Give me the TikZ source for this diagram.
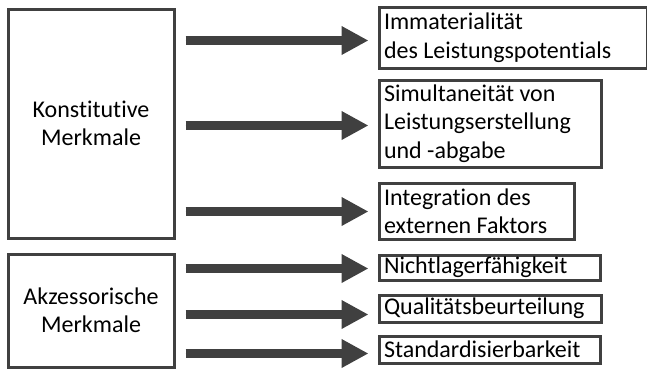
\documentclass[tikz,border=0pt]{standalone}
\usepackage{fontspec}
\setmainfont{Carlito}[Ligatures={NoCommon}]
\usetikzlibrary{arrows.meta}
\definecolor{dg}{HTML}{404040}
\begin{document}
\begin{tikzpicture}[x=1pt,y=-1pt,
  box/.style={draw=dg,line width=3pt,inner sep=0pt,anchor=north west,fill=white},
  lbox/.style={box,align=center,font=\fontsize{24}{28}\selectfont},
  rbox/.style={box,align=flush left,inner xsep=5pt,font=\fontsize{24}{28.5}\selectfont},
  arr/.style={draw=dg,line width=9pt,-{Triangle[width=27pt,length=27pt]},fill=dg}]
\useasboundingbox (0,0) rectangle (647,368);
\node[lbox,minimum width=166pt,minimum height=229pt] (K) at (6.5,7.5) {Konstitutive\\Merkmale};
\node[lbox,minimum width=166pt,minimum height=113pt] (A) at (6.5,252.5) {Akzessorische\\Merkmale};
\node[rbox,minimum width=268pt,minimum height=61pt,text width=258pt] (R1) at (377.5,5.5) {Immaterialität\\des Leistungspotentials};
\node[rbox,minimum width=222pt,minimum height=87pt,text width=212pt] (R2) at (377.5,78.5) {Simultaneität von\\Leistungserstellung\\und -abgabe};
\node[rbox,minimum width=195pt,minimum height=56pt,text width=185pt] (R3) at (377.5,181.5) {Integration des\\externen Faktors};
\node[rbox,minimum width=221pt,minimum height=25pt,text width=211pt] (R4) at (377.5,253.5) {Nichtlagerfähigkeit};
\node[rbox,minimum width=222pt,minimum height=27pt,text width=212pt] (R5) at (377.5,293.5) {Qualitätsbeurteilung};
\node[rbox,minimum width=221pt,minimum height=27pt,text width=211pt] (R6) at (377.5,334.5) {Standardisierbarkeit};
\draw[arr] ([xshift=10pt,yshift=-3pt]K.east |- R1.west) -- ([xshift=-9pt,yshift=-3pt]R1.west);
\draw[arr] ([xshift=10pt,yshift=-2pt]K.east |- R2.west) -- ([xshift=-9pt,yshift=-2pt]R2.west);
\draw[arr] ([xshift=10pt,yshift=-0.5pt]K.east |- R3.west) -- ([xshift=-9pt,yshift=-0.5pt]R3.west);
\draw[arr] ([xshift=10pt,yshift=-1pt]A.east |- R4.west) -- ([xshift=-9pt,yshift=-1pt]R4.west);
\draw[arr] ([xshift=10pt,yshift=-6pt]A.east |- R5.west) -- ([xshift=-9pt,yshift=-6pt]R5.west);
\draw[arr] ([xshift=10pt,yshift=-4pt]A.east |- R6.west) -- ([xshift=-9pt,yshift=-4pt]R6.west);
\end{tikzpicture}
\end{document}
